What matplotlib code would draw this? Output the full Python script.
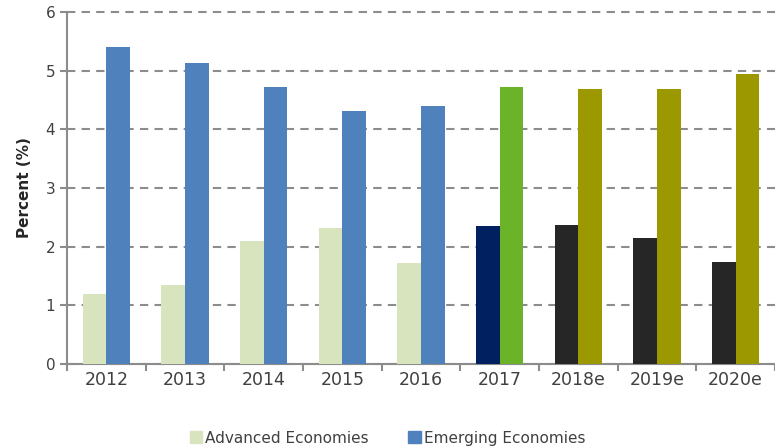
import numpy as np
import matplotlib.pyplot as plt

years = ['2012', '2013', '2014', '2015', '2016', '2017', '2018e', '2019e', '2020e']
advanced = [1.19, 1.35, 2.10, 2.32, 1.72, 2.35, 2.37, 2.15, 1.74]
emerging = [5.40, 5.13, 4.72, 4.31, 4.40, 4.72, 4.69, 4.69, 4.94]

adv_colors = ['#d7e4bd'] * 5 + ['#002060'] + ['#262626'] * 3
em_colors = ['#4f81bd'] * 5 + ['#6bb42a'] + ['#9c9900'] * 3

fig = plt.figure(figsize=(7.75, 4.46), dpi=100)
ax = fig.add_axes([0.0865, 0.184, 0.9135, 0.789])

x = np.arange(len(years))
w = 0.3
ax.bar(x - w / 2, advanced, w, color=adv_colors, linewidth=0, zorder=3)
ax.bar(x + w / 2, emerging, w, color=em_colors, linewidth=0, zorder=3)

ax.set_xlim(-0.5, len(years) - 0.5)
ax.set_ylim(0, 6)
ax.set_yticks(range(7))
ax.yaxis.grid(True, linestyle=(0, (4, 3)), color='#8c8c8c', linewidth=1.5, zorder=0)
for gl in ax.get_ygridlines():
    gl.set_clip_on(False)

ax.set_xticks(x)
ax.set_xticklabels(years, fontsize=12.5, color='#404040')
ax.set_xticks(np.arange(-0.5, len(years)), minor=True)
ax.tick_params(axis='x', which='major', length=0, pad=5)
ax.tick_params(axis='x', which='minor', length=5, width=1.5, color='#8c8c8c')
ax.tick_params(axis='y', length=5, width=1.5, color='#8c8c8c', labelsize=11,
               labelcolor='#404040')

for s in ['top', 'right']:
    ax.spines[s].set_visible(False)
for s in ['left', 'bottom']:
    ax.spines[s].set_color('#8c8c8c')
    ax.spines[s].set_linewidth(1.5)

ax.set_ylabel('Percent (%)', fontsize=11, fontweight='bold', color='#262626', labelpad=10)

h1 = plt.Rectangle((0, 0), 1, 1, color='#d7e4bd')
h2 = plt.Rectangle((0, 0), 1, 1, color='#4f81bd')
fig.legend([h1, h2], ['Advanced Economies', 'Emerging Economies'], loc='lower center',
           bbox_to_anchor=(0.5, -0.03), ncol=2, frameon=False, fontsize=11,
           handlelength=0.8, handleheight=0.8, handletextpad=0.2, columnspacing=2.6,
           labelcolor='#404040')

fig.savefig('out.png', dpi=100)
